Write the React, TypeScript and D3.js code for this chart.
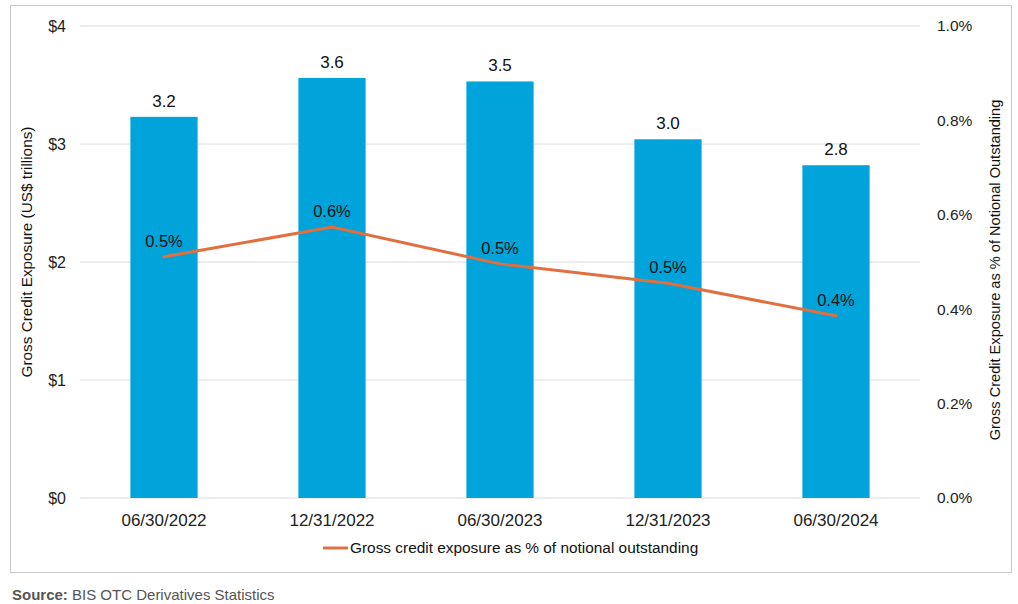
import { useRef, useEffect } from 'react';
import * as d3 from 'd3';

const periods = ['06/30/2022', '12/31/2022', '06/30/2023', '12/31/2023', '06/30/2024'];
const exposure = [3.23, 3.56, 3.53, 3.04, 2.82];
const exposureLabels = ['3.2', '3.6', '3.5', '3.0', '2.8'];
const pctOfNotional = [0.511, 0.574, 0.496, 0.455, 0.386];
const pctLabels = ['0.5%', '0.6%', '0.5%', '0.5%', '0.4%'];
const leftTicks = [0, 1, 2, 3, 4];
const rightTicks = [0, 0.2, 0.4, 0.6, 0.8, 1.0];

const W = 1018;
const H = 604;
const margin = { top: 26, right: 98, bottom: 106, left: 80 };
const font = '"Liberation Sans", Arial, sans-serif';

export default function App() {
  const svgRef = useRef<SVGSVGElement>(null);

  useEffect(() => {
    const svg = d3.select(svgRef.current);
    if (!svg.node()) return;
    svg.selectAll('*').remove();

    const x0 = margin.left;
    const x1 = W - margin.right;
    const y0 = H - margin.bottom;
    const y1 = margin.top;

    const x = d3.scaleBand<string>().domain(periods).range([x0, x1]).paddingInner(0.6).paddingOuter(0.3);
    const yL = d3.scaleLinear().domain([0, 4]).range([y0, y1]);
    const yR = d3.scaleLinear().domain([0, 1.0]).range([y0, y1]);

    svg.append('rect')
      .attr('x', 10.5).attr('y', 5.5).attr('width', 1001).attr('height', 567)
      .attr('fill', '#fff').attr('stroke', '#c9c9c9').attr('stroke-width', 1);

    const grid = svg.append('g');
    leftTicks.forEach(t => {
      grid.append('line')
        .attr('x1', x0).attr('x2', x1)
        .attr('y1', yL(t)).attr('y2', yL(t))
        .attr('stroke', '#dcdcdc').attr('stroke-width', 1);
    });

    const yAxisL = d3.axisLeft(yL).tickValues(leftTicks).tickSize(0).tickPadding(14).tickFormat(d => `$${d}`);
    const gL = svg.append('g').attr('transform', `translate(${x0},0)`).call(yAxisL);
    gL.select('.domain').remove();
    gL.selectAll('text').style('font-family', font).style('font-size', '16px').style('fill', '#222');

    const yAxisR = d3.axisRight(yR).tickValues(rightTicks).tickSize(0).tickPadding(17).tickFormat(d => `${(+d).toFixed(1)}%`);
    const gR = svg.append('g').attr('transform', `translate(${x1},0)`).call(yAxisR);
    gR.select('.domain').remove();
    gR.selectAll('text').style('font-family', font).style('font-size', '15.5px').style('fill', '#222');

    const xAxis = d3.axisBottom(x).tickSize(0).tickPadding(16);
    const gX = svg.append('g').attr('transform', `translate(0,${y0})`).call(xAxis);
    gX.select('.domain').remove();
    gX.selectAll('text').style('font-family', font).style('font-size', '17px').style('fill', '#222');

    svg.append('g').selectAll('rect')
      .data(periods)
      .enter()
      .append('rect')
      .attr('x', d => x(d) || 0)
      .attr('y', (d, i) => yL(exposure[i]))
      .attr('width', x.bandwidth())
      .attr('height', (d, i) => y0 - yL(exposure[i]))
      .attr('fill', '#00a3da');

    svg.append('g').selectAll('text')
      .data(periods)
      .enter()
      .append('text')
      .attr('x', d => (x(d) || 0) + x.bandwidth() / 2)
      .attr('y', (d, i) => yL(exposure[i]) - 10)
      .attr('text-anchor', 'middle')
      .style('font-family', font)
      .style('font-size', '17px')
      .style('fill', '#111')
      .text((d, i) => exposureLabels[i]);

    const line = d3.line<number>()
      .x((d, i) => (x(periods[i]) || 0) + x.bandwidth() / 2)
      .y(d => yR(d));

    svg.append('path')
      .datum(pctOfNotional)
      .attr('d', line)
      .attr('fill', 'none')
      .attr('stroke', '#e0703f')
      .attr('stroke-width', 3)
      .attr('stroke-linecap', 'round');

    svg.append('g').selectAll('text')
      .data(periods)
      .enter()
      .append('text')
      .attr('x', d => (x(d) || 0) + x.bandwidth() / 2)
      .attr('y', (d, i) => yR(pctOfNotional[i]) - 10)
      .attr('text-anchor', 'middle')
      .style('font-family', font)
      .style('font-size', '16.5px')
      .style('fill', '#111')
      .text((d, i) => pctLabels[i]);

    svg.append('text')
      .attr('transform', `translate(32,${(y0 + y1) / 2 - 10}) rotate(-90)`)
      .attr('text-anchor', 'middle')
      .style('font-family', font)
      .style('font-size', '15.3px')
      .style('fill', '#111')
      .text('Gross Credit Exposure (US$ trillions)');

    svg.append('text')
      .attr('transform', `translate(1000,${(y0 + y1) / 2 + 8}) rotate(-90)`)
      .attr('text-anchor', 'middle')
      .style('font-family', font)
      .style('font-size', '14.6px')
      .style('fill', '#111')
      .text('Gross Credit Exposure as % of Notional Outstanding');

    const legend = svg.append('g').attr('transform', 'translate(323,548)');
    legend.append('line')
      .attr('x1', 0).attr('x2', 25).attr('y1', 0).attr('y2', 0)
      .attr('stroke', '#e0703f').attr('stroke-width', 3);
    legend.append('text')
      .attr('x', 27).attr('y', 5)
      .style('font-family', font)
      .style('font-size', '15.4px')
      .style('fill', '#111')
      .text('Gross credit exposure as % of notional outstanding');

    const src = svg.append('text')
      .attr('x', 12).attr('y', 600)
      .style('font-family', font)
      .style('font-size', '15px')
      .style('fill', '#555');
    src.append('tspan').style('font-weight', 'bold').text('Source:');
    src.append('tspan').text(' BIS OTC Derivatives Statistics');
  }, []);

  return (
    <svg ref={svgRef} width={W} height={H} style={{ display: 'block', position: 'absolute', left: 0, top: 0 }} />
  );
}
